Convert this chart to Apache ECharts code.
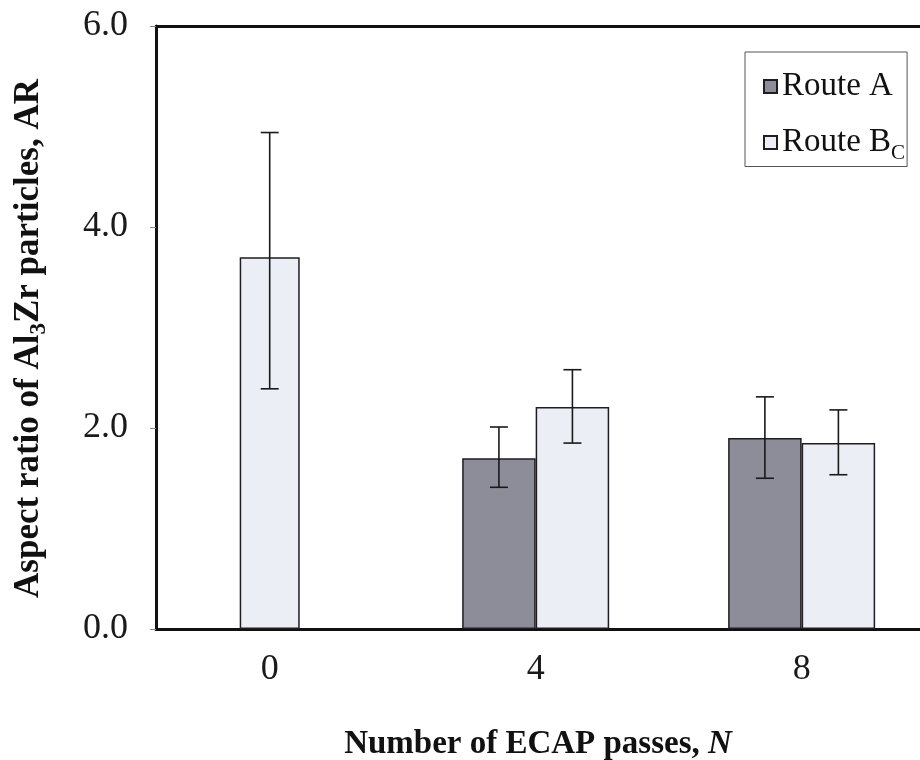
<!DOCTYPE html>
<html>
<head>
<meta charset="utf-8">
<script src="https://cdn.jsdelivr.net/npm/echarts@6/dist/echarts.min.js"></script>
<style>
  html, body { margin: 0; padding: 0; background: #ffffff; }
  #chart { width: 920px; height: 760px; }
</style>
</head>
<body>
<div id="chart"></div>
<script>
// Number of ECAP passes
const passes = [0, 4, 8];
// Mean aspect ratio and the ends of the error bars for each route
const routeA = [null, 1.70, 1.90];
const routeALow = [null, 1.41, 1.50];
const routeAHigh = [null, 2.01, 2.31];
const routeBc = [3.70, 2.21, 1.85];
const routeBcLow = [2.39, 1.85, 1.535];
const routeBcHigh = [4.94, 2.58, 2.18];

const FONT = 'Liberation Serif';
const PAIR_W = 73.5;   // width of each bar in a side-by-side pair
const SINGLE_W = 60;   // width of a bar standing alone at its pass count
const CAP = 9;         // half width of an error-bar cap
const X_MIN = -1.71, X_MAX = 9.78;

const fillA = '#8c8d98';
const fillBc = '#eceef6';
const edge = '#1e1e22';

// Bars where both routes exist are drawn as pairs; a Route Bc bar
// without a Route A partner is centred on its own axis.
const pairA = [], pairBc = [], singleBc = [];
const errA = [], errBc = [], errSingle = [];
passes.forEach((n, i) => {
  if (routeA[i] != null) {
    pairA.push([n, routeA[i]]);
    errA.push([n, routeALow[i], routeAHigh[i]]);
    pairBc.push([n, routeBc[i]]);
    errBc.push([n, routeBcLow[i], routeBcHigh[i]]);
  } else {
    singleBc.push([n, routeBc[i]]);
    errSingle.push([n, routeBcLow[i], routeBcHigh[i]]);
  }
});

function errorBars(shift) {
  return function (params, api) {
    const x = api.value(0);
    const lo = api.coord([x, api.value(1)]);
    const hi = api.coord([x, api.value(2)]);
    const cx = lo[0] + shift;
    const style = { stroke: '#1a1a1a', lineWidth: 1.6 };
    return {
      type: 'group',
      children: [
        { type: 'line', shape: { x1: cx, y1: lo[1], x2: cx, y2: hi[1] }, style },
        { type: 'line', shape: { x1: cx - CAP, y1: hi[1], x2: cx + CAP, y2: hi[1] }, style },
        { type: 'line', shape: { x1: cx - CAP, y1: lo[1], x2: cx + CAP, y2: lo[1] }, style }
      ]
    };
  };
}

const chart = echarts.init(document.getElementById('chart'), null, { renderer: 'canvas' });

chart.setOption({
  backgroundColor: '#ffffff',
  animation: false,
  textStyle: { fontFamily: FONT },
  grid: { left: 156, right: 0, top: 26, bottom: 131, outerBoundsMode: 'none', containLabel: false },
  legend: {
    orient: 'vertical',
    left: 745,
    top: 52,
    padding: [18, 2, 3, 18],
    itemGap: 23,
    itemWidth: 13,
    itemHeight: 13,
    borderColor: '#555',
    borderWidth: 1,
    icon: 'rect',
    data: ['Route A', 'Route BC'],
    formatter: name => name === 'Route BC' ? '{n|Route B}{s|C}' : '{n|' + name + '}',
    textStyle: {
      fontFamily: FONT,
      color: '#111',
      rich: {
        n: { fontFamily: FONT, fontSize: 33, color: '#111' },
        s: { fontFamily: FONT, fontSize: 21, color: '#111', verticalAlign: 'bottom', lineHeight: 42 }
      }
    }
  },
  xAxis: [
    {
      type: 'value',
      min: X_MIN,
      max: X_MAX,
      position: 'bottom',
      axisLine: { show: true, onZero: false, lineStyle: { color: '#111', width: 3 } },
      axisTick: { show: false },
      splitLine: { show: false },
      axisLabel: {
        customValues: passes,
        margin: 23,
        fontFamily: FONT,
        fontSize: 36,
        color: '#1a1a1a'
      },
      name: '{t|Number of ECAP passes, }{i|N}',
      nameLocation: 'middle',
      nameGap: 99,
      nameTextStyle: {
        rich: {
          t: { fontFamily: FONT, fontSize: 33, fontWeight: 'bold', color: '#111' },
          i: { fontFamily: FONT, fontSize: 33, fontWeight: 'bold', fontStyle: 'italic', color: '#111' }
        }
      }
    },
    {
      type: 'value',
      min: X_MIN,
      max: X_MAX,
      position: 'top',
      axisLine: { show: true, onZero: false, lineStyle: { color: '#111', width: 3 } },
      axisTick: { show: false },
      axisLabel: { show: false },
      splitLine: { show: false }
    }
  ],
  yAxis: {
    type: 'value',
    min: 0,
    max: 6,
    interval: 2,
    axisLine: { show: true, onZero: false, lineStyle: { color: '#111', width: 3 } },
    axisTick: { show: true, length: 6, lineStyle: { color: '#888', width: 1 } },
    splitLine: { show: false },
    axisLabel: {
      formatter: v => v.toFixed(1),
      margin: 28,
      fontFamily: FONT,
      fontSize: 36,
      color: '#1a1a1a'
    },
    name: '{b|Aspect ratio of Al}{s|3}{b|Zr particles, AR}',
    nameLocation: 'middle',
    nameGap: 105,
    nameRotate: 90,
    nameTextStyle: {
      padding: [0, 22, 0, 0],
      rich: {
        b: { fontFamily: FONT, fontSize: 35, fontWeight: 'bold', color: '#111' },
        s: { fontFamily: FONT, fontSize: 23, fontWeight: 'bold', color: '#111', verticalAlign: 'bottom', lineHeight: 44 }
      }
    }
  },
  series: [
    {
      name: 'Route A',
      type: 'bar',
      xAxisIndex: 0,
      barWidth: PAIR_W,
      barGap: '0%',
      data: pairA,
      itemStyle: { color: fillA, borderColor: edge, borderWidth: 1.5 }
    },
    {
      name: 'Route BC',
      type: 'bar',
      xAxisIndex: 0,
      barWidth: PAIR_W,
      barGap: '0%',
      data: pairBc,
      itemStyle: { color: fillBc, borderColor: edge, borderWidth: 1.5 }
    },
    {
      name: 'Route BC',
      type: 'bar',
      xAxisIndex: 1,
      barWidth: SINGLE_W,
      data: singleBc,
      itemStyle: { color: fillBc, borderColor: edge, borderWidth: 1.5 }
    },
    {
      name: 'errA', type: 'custom', xAxisIndex: 0, z: 5,
      renderItem: errorBars(-PAIR_W / 2), data: errA
    },
    {
      name: 'errBc', type: 'custom', xAxisIndex: 0, z: 5,
      renderItem: errorBars(PAIR_W / 2), data: errBc
    },
    {
      name: 'errSingle', type: 'custom', xAxisIndex: 0, z: 5,
      renderItem: errorBars(0), data: errSingle
    }
  ]
});
</script>
</body>
</html>
